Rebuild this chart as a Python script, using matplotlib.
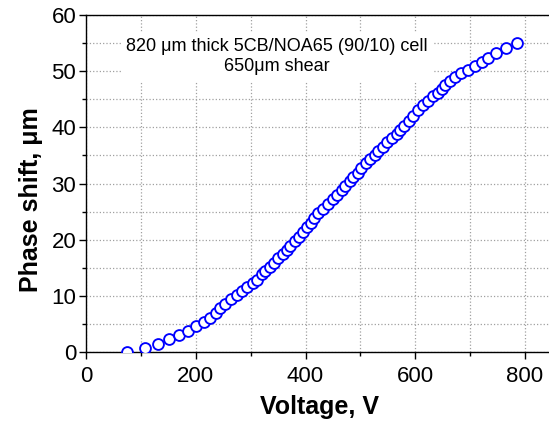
import matplotlib
matplotlib.use("Agg")
import matplotlib.pyplot as plt
from matplotlib.ticker import MultipleLocator

plt.rcParams['font.family'] = ['Liberation Sans', 'DejaVu Sans']

voltage = [74, 107, 132, 152, 170, 186, 201, 215, 226, 236, 244, 253, 265, 276, 285,
           293, 304, 311, 320, 326, 335, 342, 350, 359, 366, 372, 381, 389, 396, 403,
           410, 416, 423, 432, 441, 450, 458, 466, 472, 481, 487, 496, 502, 511, 517,
           526, 532, 542, 548, 557, 566, 572, 580, 588, 596, 605, 614, 623, 633, 642,
           648, 654, 663, 672, 684, 696, 709, 721, 733, 748, 766, 785]
phase = [0.0, 0.8, 1.5, 2.3, 3.0, 3.8, 4.6, 5.3, 6.1, 6.9, 7.8, 8.6, 9.4, 10.1, 10.8,
         11.5, 12.3, 12.9, 13.8, 14.5, 15.2, 15.9, 16.7, 17.5, 18.2, 18.9, 19.7, 20.5, 21.3, 22.2,
         23.0, 23.8, 24.7, 25.5, 26.4, 27.3, 28.0, 28.8, 29.5, 30.4, 31.2, 31.9, 32.8, 33.6, 34.3,
         35.0, 35.8, 36.5, 37.3, 38.1, 38.9, 39.6, 40.3, 41.2, 42.1, 43.0, 43.9, 44.7, 45.5, 46.2,
         46.8, 47.5, 48.3, 49.0, 49.6, 50.2, 50.9, 51.6, 52.4, 53.3, 54.1, 55.0]

x_ticks = [0, 200, 400, 600, 800]
y_ticks = [0, 10, 20, 30, 40, 50, 60]

W, H = 549, 421
fig = plt.figure(figsize=(W / 100, H / 100), dpi=100)
left = 86 / W
bottom = 1 - 352 / H
top = 1 - 15 / H
right = (86 + 850 * 0.54875) / W
ax = fig.add_axes([left, bottom, right - left, top - bottom])

ax.plot(voltage, phase, linestyle='none', marker='o', markersize=7.8,
        markerfacecolor='white', markeredgecolor='#0000ff', markeredgewidth=1.35, zorder=3)

ax.set_xlim(0, 850)
ax.set_ylim(0, 60)
ax.set_xticks(x_ticks)
ax.set_yticks(y_ticks)
ax.xaxis.set_minor_locator(MultipleLocator(100))
ax.yaxis.set_minor_locator(MultipleLocator(5))
ax.tick_params(which='major', direction='out', length=5, width=1, labelsize=16, pad=2)
ax.tick_params(axis='x', which='major', pad=5)
ax.tick_params(which='minor', direction='out', length=3, width=1)
ax.grid(True, which='both', linestyle=':', color='#a0a0a0', linewidth=0.9)
ax.set_axisbelow(True)
ax.spines['right'].set_visible(False)
for s in ['left', 'bottom', 'top']:
    ax.spines[s].set_linewidth(1.0)

ax.set_xlabel('Voltage, V', fontsize=18, fontweight='bold', labelpad=6)
ax.set_ylabel('Phase shift, μm', fontsize=18, fontweight='bold')
ax.yaxis.set_label_coords(-0.092, 0.451)

ax.text(0.41, 0.877, '820 μm thick 5CB/NOA65 (90/10) cell\n650μm shear',
        transform=ax.transAxes, ha='center', va='center', fontsize=13,
        linespacing=1.28, zorder=4,
        bbox=dict(facecolor='white', edgecolor='none', pad=4))

fig.savefig('out.png', dpi=100)
